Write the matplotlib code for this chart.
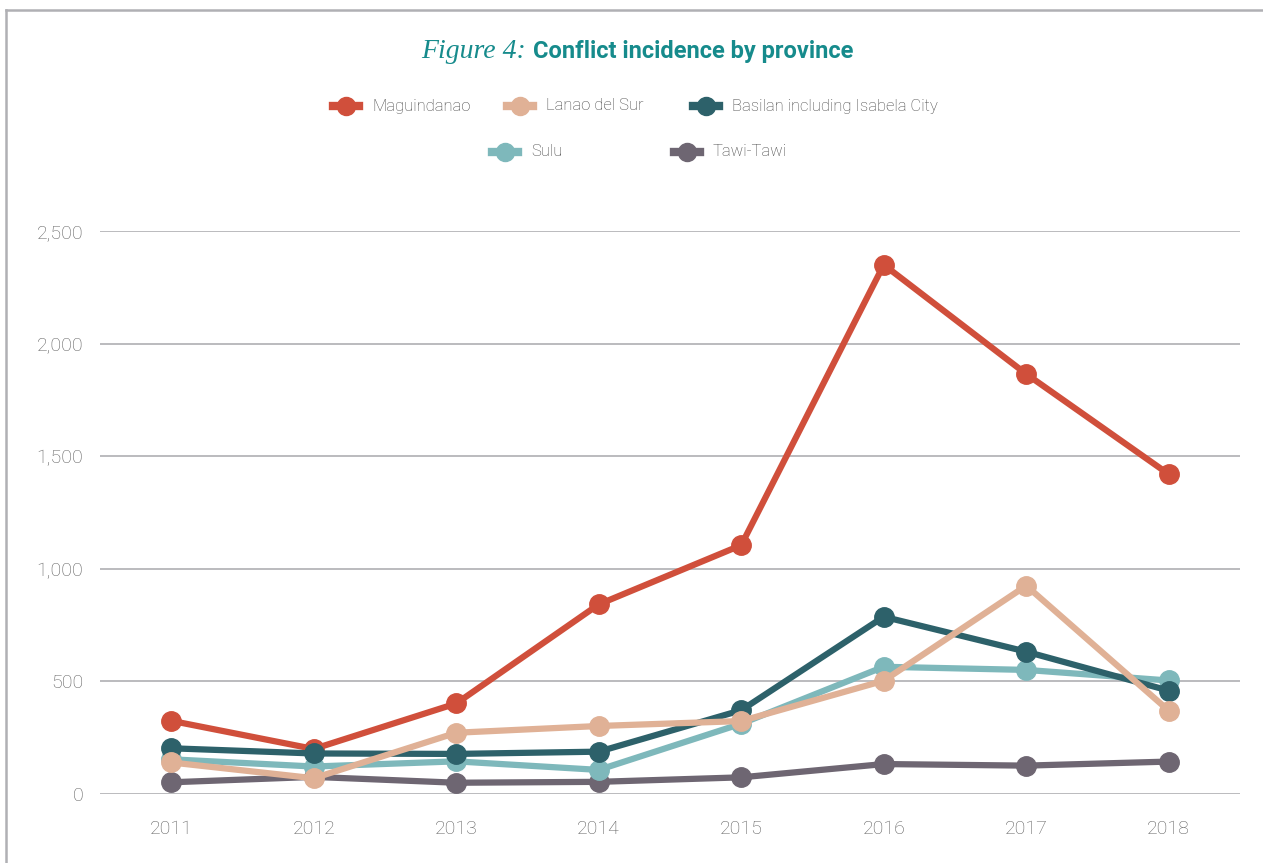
import matplotlib.pyplot as plt
from matplotlib.lines import Line2D

# Data
years = ['2011', '2012', '2013', '2014', '2015', '2016', '2017', '2018']
maguindanao = [325, 200, 402, 842, 1105, 2350, 1865, 1420]
lanao_del_sur = [140, 70, 272, 302, 324, 503, 925, 370]
basilan = [203, 180, 178, 188, 372, 787, 632, 459]
sulu = [154, 122, 145, 107, 312, 565, 551, 504]
tawi_tawi = [52, 76, 50, 54, 74, 133, 126, 144]

names = ['Maguindanao', 'Lanao del Sur', 'Basilan including Isabela City',
         'Sulu', 'Tawi-Tawi']
colors = {'Maguindanao': '#d04f3b', 'Lanao del Sur': '#e0b196',
          'Basilan including Isabela City': '#2d616a', 'Sulu': '#7eb8bb',
          'Tawi-Tawi': '#6e6672'}
series = {'Maguindanao': maguindanao, 'Lanao del Sur': lanao_del_sur,
          'Basilan including Isabela City': basilan, 'Sulu': sulu,
          'Tawi-Tawi': tawi_tawi}
draw_order = ['Maguindanao', 'Tawi-Tawi', 'Sulu',
              'Basilan including Isabela City', 'Lanao del Sur']

plt.rcParams['font.family'] = ['Roboto', 'DejaVu Sans']

W, H = 1263, 863
fig = plt.figure(figsize=(W / 100, H / 100), dpi=100)
ax = fig.add_axes([100 / W, 69 / H, 1140 / W, 563 / H])

x = range(len(years))
for name in draw_order:
    ax.plot(x, series[name], color=colors[name], lw=4.5, marker='o',
            markersize=14, solid_capstyle='round', clip_on=False)

ax.set_xlim(-0.5, 7.5)
ax.set_ylim(0, 2500)
ax.set_yticks([0, 500, 1000, 1500, 2000, 2500])
ax.set_yticklabels(['0', '500', '1,000', '1,500', '2,000', '2,500'])
ax.set_xticks(list(x))
ax.set_xticklabels(years)
for y in [0, 500, 1000, 1500, 2000, 2500]:
    ax.axhline(y, color='#b5b5b9', lw=1.3, zorder=0)
for s in ax.spines.values():
    s.set_visible(False)
ax.tick_params(length=0, labelcolor='#5f5f5f', labelsize=14)
ax.tick_params(axis='x', pad=19)
ax.tick_params(axis='y', pad=12)
for lab in ax.get_xticklabels() + ax.get_yticklabels():
    lab.set_fontweight('light')

# Frame around the figure
fig.add_artist(Line2D([6 / W, 6 / W], [0, 1 - 10 / H], color='#b0b0b4', lw=1.8))
fig.add_artist(Line2D([6 / W, 1], [1 - 10 / H, 1 - 10 / H], color='#b0b0b4', lw=1.8))

# Title
teal = '#168b8c'
fig.text(526 / W, 1 - 58 / H, 'Figure 4:', ha='right', va='baseline',
         fontsize=20, color=teal, style='italic',
         family=['Liberation Serif', 'DejaVu Serif'])
fig.text(533 / W, 1 - 58 / H, 'Conflict incidence by province', ha='left',
         va='baseline', fontsize=17, color=teal, fontweight='bold')

# Legend, two centred rows
legend_pos = {'Maguindanao': (346, 106), 'Lanao del Sur': (520, 106),
              'Basilan including Isabela City': (706, 106),
              'Sulu': (505, 152), 'Tawi-Tawi': (687, 152)}
for name in names:
    mx, my = legend_pos[name]
    fig.add_artist(Line2D([(mx - 13) / W, (mx + 13) / W], [1 - my / H, 1 - my / H],
                          color=colors[name], lw=6))
    fig.add_artist(Line2D([mx / W], [1 - my / H], color=colors[name],
                          marker='o', markersize=13))
    fig.text((mx + 26) / W, 1 - my / H, name, ha='left', va='center',
             fontsize=12, color='#444444', fontweight='light')

fig.savefig('out.png', dpi=100)
